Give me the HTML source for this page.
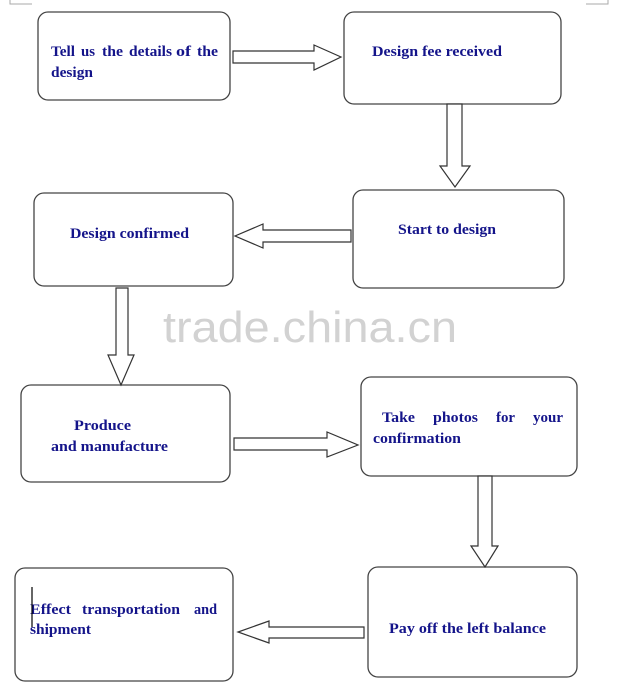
<!DOCTYPE html>
<html><head><meta charset="utf-8"><style>
html,body{margin:0;padding:0;background:#fff;}
svg{display:block}
.t{font-family:"Liberation Serif",serif;font-weight:bold;font-size:15px;fill:#14148a;}
.b{fill:#fff;stroke:#444;stroke-width:1.3}
.a{fill:#fff;stroke:#333;stroke-width:1.2}
</style></head><body>
<svg width="617" height="684" viewBox="0 0 617 684" xmlns="http://www.w3.org/2000/svg">
<path d="M10 0V4H32" fill="none" stroke="#aaa" stroke-width="1"/>
<path d="M586 4H608V0" fill="none" stroke="#aaa" stroke-width="1"/>
<rect class="b" x="38" y="12" width="192" height="88" rx="10"/>
<rect class="b" x="344" y="12" width="217" height="92" rx="10"/>
<rect class="b" x="353" y="190" width="211" height="98" rx="10"/>
<rect class="b" x="34" y="193" width="199" height="93" rx="10"/>
<rect class="b" x="21" y="385" width="209" height="97" rx="10"/>
<rect class="b" x="361" y="377" width="216" height="99" rx="10"/>
<rect class="b" x="368" y="567" width="209" height="110" rx="10"/>
<rect class="b" x="15" y="568" width="218" height="113" rx="10"/>
<text x="310" y="342" font-family="Liberation Sans,sans-serif" font-size="44" fill="#d2d2d2" textLength="294" lengthAdjust="spacingAndGlyphs" text-anchor="middle">trade.china.cn</text>
<polygon class="a" points="233,51 314,51 314,45 341,57 314,70 314,63 233,63"/>
<polygon class="a" points="447,104 462,104 462,166 470,166 455,187 440,166 447,166"/>
<polygon class="a" points="351,230 263,230 263,224 235,236 263,248 263,242 351,242"/>
<polygon class="a" points="116,288 128,288 128,355 134,355 121,385 108,355 116,355"/>
<polygon class="a" points="234,438 327,438 327,432 358,445 327,457 327,450 234,450"/>
<polygon class="a" points="478,476 492,476 492,546 498,546 485,567 471,546 478,546"/>
<polygon class="a" points="364,627 269,627 269,621 238,632 269,643 269,638 364,638"/>
<g class="t">
<text x="51" y="56" textLength="24" lengthAdjust="spacingAndGlyphs">Tell</text>
<text x="81" y="56" textLength="14" lengthAdjust="spacingAndGlyphs">us</text>
<text x="102" y="56" textLength="21" lengthAdjust="spacingAndGlyphs">the</text>
<text x="129" y="56" textLength="43" lengthAdjust="spacingAndGlyphs">details</text>
<text x="176" y="56" textLength="15" lengthAdjust="spacingAndGlyphs">of</text>
<text x="197" y="56" textLength="21" lengthAdjust="spacingAndGlyphs">the</text>
<text x="51" y="77" textLength="42" lengthAdjust="spacingAndGlyphs">design</text>
<text x="372" y="56" textLength="130" lengthAdjust="spacingAndGlyphs">Design fee received</text>
<text x="398" y="234" textLength="98" lengthAdjust="spacingAndGlyphs">Start to design</text>
<text x="70" y="238" textLength="119" lengthAdjust="spacingAndGlyphs">Design confirmed</text>
<text x="74" y="430" textLength="57" lengthAdjust="spacingAndGlyphs">Produce</text>
<text x="51" y="451" textLength="117" lengthAdjust="spacingAndGlyphs">and manufacture</text>
<text x="382" y="422" textLength="33" lengthAdjust="spacingAndGlyphs">Take</text>
<text x="433" y="422" textLength="45" lengthAdjust="spacingAndGlyphs">photos</text>
<text x="496" y="422" textLength="19" lengthAdjust="spacingAndGlyphs">for</text>
<text x="533" y="422" textLength="30" lengthAdjust="spacingAndGlyphs">your</text>
<text x="373" y="443" textLength="88" lengthAdjust="spacingAndGlyphs">confirmation</text>
<text x="30" y="614" textLength="41" lengthAdjust="spacingAndGlyphs">Effect</text>
<text x="82" y="614" textLength="98" lengthAdjust="spacingAndGlyphs">transportation</text>
<text x="194" y="614" textLength="23" lengthAdjust="spacingAndGlyphs">and</text>
<text x="30" y="634" textLength="61" lengthAdjust="spacingAndGlyphs">shipment</text>
<text x="389" y="633" textLength="157" lengthAdjust="spacingAndGlyphs">Pay off the left balance</text>
</g>
<line x1="32" y1="587" x2="32" y2="627" stroke="#000" stroke-width="1.2"/>
</svg>
</body></html>
